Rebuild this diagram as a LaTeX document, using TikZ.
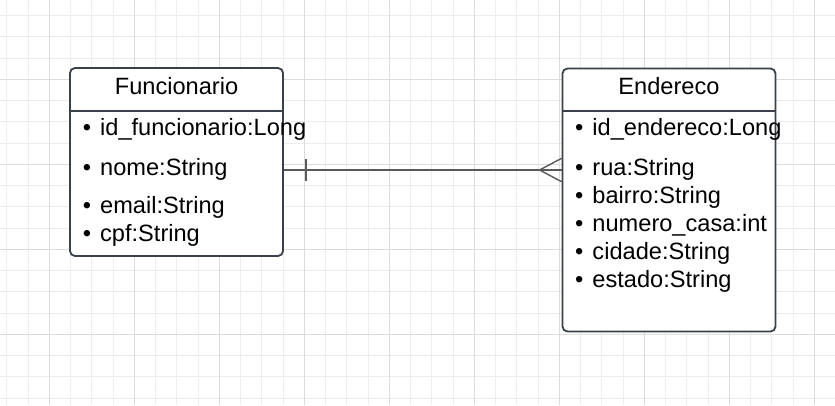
\documentclass[tikz,border=0pt]{standalone}
\usepackage{fontspec}
\setmainfont{Liberation Sans}
\usetikzlibrary{calc, positioning}

\definecolor{boxline}{HTML}{3A414A}
\definecolor{linkline}{HTML}{5A5A5A}
\definecolor{gridminor}{HTML}{EDEDED}
\definecolor{gridmajor}{HTML}{DCDCDC}

\tikzset{
  classbox/.style = {draw=boxline, line width=1.8pt, rounded corners=5pt,
    fill=white, rectangle, inner sep=0pt},
  title/.style = {anchor=base, inner sep=0pt, font=\fontsize{23.6}{28}\selectfont},
  attr/.style = {anchor=base west, inner sep=0pt, font=\fontsize{23.6}{28}\selectfont},
  link/.style = {draw=linkline, line width=1.4pt}
}
\newcommand{\attrib}[1]{\makebox[17.3pt][l]{•}#1}

\begin{document}
\begin{tikzpicture}[x=1pt, y=-1pt]
    \useasboundingbox (0,0) rectangle (835,405);
    \fill[white] (0,0) rectangle (835,405);

    % grid
    \foreach \i in {0,...,39}
      \draw[gridminor, line width=0.8pt] ({6.8+21.25*\i},0) -- ({6.8+21.25*\i},405);
    \foreach \j in {0,...,18}
      \draw[gridminor, line width=0.8pt] (0,{15.55+21.25*\j}) -- (835,{15.55+21.25*\j});
    \foreach \gx in {49.3,134.3,...,835}
      \draw[gridmajor, line width=0.8pt] (\gx,0) -- (\gx,405);
    \foreach \gy in {79.3,164.3,...,405}
      \draw[gridmajor, line width=0.8pt] (0,\gy) -- (835,\gy);

    % boxes
    \node[classbox, minimum width=213pt, minimum height=188pt] at (176.5,162) (fun) {};
    \node[classbox, minimum width=213pt, minimum height=263pt] at (669,200) (end) {};
    \draw[boxline, line width=1.8pt] (fun.west |- 0,110.7) -- (fun.east |- 0,110.7);
    \draw[boxline, line width=1.8pt] (end.west |- 0,111) -- (end.east |- 0,111);

    \node[title] at (176.5,94.3) (funtitle) {Funcionario};
    \node[attr] at (82.7,135) (idfun) {\attrib{id\_funcionario:Long}};
    \node[attr] at (82.7,175) (nome) {\attrib{nome:String}};
    \node[attr] at (82.7,213.3) (email) {\attrib{email:String}};
    \node[attr] at (82.7,241.7) (cpf) {\attrib{cpf:String}};

    \node[title] at (669,94.3) (endtitle) {Endereco};
    \node[attr] at (575,135) (idend) {\attrib{id\_endereco:Long}};
    \node[attr] at (575,175) (rua) {\attrib{rua:String}};
    \node[attr] at (575,203.3) (bairro) {\attrib{bairro:String}};
    \node[attr] at (575,231.3) (numero) {\attrib{numero\_casa:int}};
    \node[attr] at (575,259.3) (cidade) {\attrib{cidade:String}};
    \node[attr] at (575,287.7) (estado) {\attrib{estado:String}};

    % relationship
    \coordinate (lk) at (fun.east |- 0,170);
    \coordinate (rk) at (end.west |- 0,170);
    \draw[link] (lk) -- (rk);
    \draw[link] ([shift={(22,-10.7)}]lk) -- ([shift={(22,10.7)}]lk);
    \draw[link] ([shift={(0,-11.7)}]rk) -- ([xshift=-22pt]rk) -- ([shift={(0,11.7)}]rk);
\end{tikzpicture}
\end{document}
